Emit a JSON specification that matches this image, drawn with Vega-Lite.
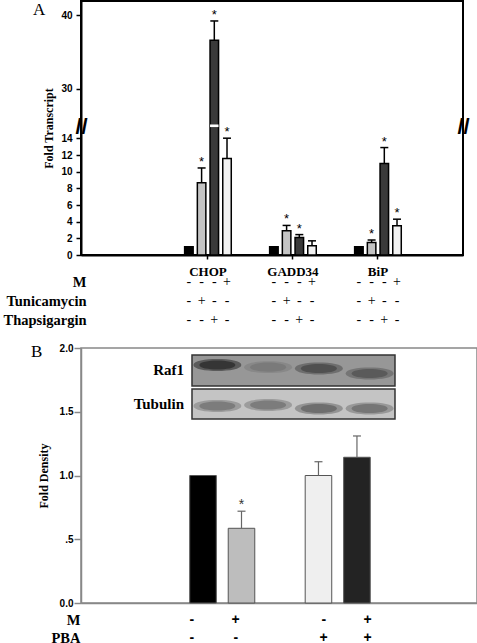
{
 "$schema": "https://vega.github.io/schema/vega-lite/v6.json",
 "background": "white",
 "padding": {"left": 3, "top": 0, "right": 0, "bottom": 0},
 "bounds": "flush",
 "spacing": 17,
 "config": {"font": "Liberation Serif", "axis": {"grid": false}},
 "datasets": {
  "a": [
   {"gene":"CHOP","treatment":"Control","value":1.0,"upper":null,"sig":"","M":"-","Tunicamycin":"-","Thapsigargin":"-"},
   {"gene":"CHOP","treatment":"Tunicamycin","value":8.66,"upper":10.45,"sig":"*","M":"-","Tunicamycin":"+","Thapsigargin":"-"},
   {"gene":"CHOP","treatment":"Thapsigargin","value":36.6,"upper":39.2,"sig":"*","M":"-","Tunicamycin":"-","Thapsigargin":"+"},
   {"gene":"CHOP","treatment":"M","value":11.6,"upper":14.2,"sig":"*","M":"+","Tunicamycin":"-","Thapsigargin":"-"},
   {"gene":"GADD34","treatment":"Control","value":1.0,"upper":null,"sig":"","M":"-","Tunicamycin":"-","Thapsigargin":"-"},
   {"gene":"GADD34","treatment":"Tunicamycin","value":2.9,"upper":3.55,"sig":"*","M":"-","Tunicamycin":"+","Thapsigargin":"-"},
   {"gene":"GADD34","treatment":"Thapsigargin","value":2.1,"upper":2.45,"sig":"*","M":"-","Tunicamycin":"-","Thapsigargin":"+"},
   {"gene":"GADD34","treatment":"M","value":1.1,"upper":1.7,"sig":"","M":"+","Tunicamycin":"-","Thapsigargin":"-"},
   {"gene":"BiP","treatment":"Control","value":1.0,"upper":null,"sig":"","M":"-","Tunicamycin":"-","Thapsigargin":"-"},
   {"gene":"BiP","treatment":"Tunicamycin","value":1.5,"upper":1.8,"sig":"*","M":"-","Tunicamycin":"+","Thapsigargin":"-"},
   {"gene":"BiP","treatment":"Thapsigargin","value":11.0,"upper":12.9,"sig":"*","M":"-","Tunicamycin":"-","Thapsigargin":"+"},
   {"gene":"BiP","treatment":"M","value":3.5,"upper":4.3,"sig":"*","M":"+","Tunicamycin":"-","Thapsigargin":"-"}
  ],
  "b": [
   {"cond":"Control","PBA":"-","M":"-","value":1.0,"upper":null,"sig":""},
   {"cond":"M","PBA":"-","M":"+","value":0.586,"upper":0.72,"sig":"*"},
   {"cond":"PBA","PBA":"+","M":"-","value":1.0,"upper":1.108,"sig":""},
   {"cond":"M+PBA","PBA":"+","M":"+","value":1.143,"upper":1.31,"sig":""}
  ],
  "blotbox": [
   {"protein":"Raf1","top":1.945,"bottom":1.702},
   {"protein":"Tubulin","top":1.678,"bottom":1.443}
  ],
  "bands": [
   {"protein":"Raf1","lane":1,"y":1.866,"intensity":0.9},
   {"protein":"Raf1","lane":2,"y":1.85,"intensity":0.22},
   {"protein":"Raf1","lane":3,"y":1.84,"intensity":0.6},
   {"protein":"Raf1","lane":4,"y":1.80,"intensity":0.5},
   {"protein":"Tubulin","lane":1,"y":1.545,"intensity":0.45},
   {"protein":"Tubulin","lane":2,"y":1.553,"intensity":0.45},
   {"protein":"Tubulin","lane":3,"y":1.525,"intensity":0.55},
   {"protein":"Tubulin","lane":4,"y":1.525,"intensity":0.5}
  ]
 },
 "vconcat": [
  {
   "width": 382,
   "height": 254,
   "title": {"text": "A", "anchor": "start", "frame": "group", "font": "Liberation Serif", "fontSize": 17, "fontWeight": "normal", "baseline": "top", "offset": 0, "dx": -48, "dy": 18, "color": "black"},
   "view": {"stroke": "black", "strokeWidth": 2},
   "data": {"name": "a"},
   "resolve": {"axis": {"y": "independent"}},
   "encoding": {
    "x": {"field": "gene", "type": "nominal", "sort": ["CHOP","GADD34","BiP"],
          "scale": {"domain": ["CHOP","GADD34","BiP"], "paddingInner": 0, "paddingOuter": 0.747, "align": 0.665},
          "axis": {"title": null, "labelAngle": 0, "labelFont": "Liberation Serif", "labelFontSize": 13, "labelFontWeight": "bold", "labelColor": "black", "labelPadding": 6, "tickSize": 4, "tickColor": "black", "tickWidth": 1.5, "domainColor": "black", "domainWidth": 2}},
    "xOffset": {"field": "treatment", "type": "nominal", "scale": {"domain": ["_p1","Control","Tunicamycin","Thapsigargin","M","_p2"], "paddingInner": 0.33, "paddingOuter": 0.51}}
   },
   "layer": [
    {
     "mark": {"type": "bar", "stroke": "black", "strokeWidth": 1.5},
     "encoding": {
      "y": {"field": "value", "type": "quantitative",
            "scale": {"domain": [0, 14, 24.9, 41.9], "range": [254, 137.4, 125.7, 0], "nice": false, "zero": false},
            "axis": {"values": [0,2,4,6,8,10,12,14,24.9,30,40], "labelOverlap": false,
                     "labelExpr": "datum.value == 24.9 ? '//' : datum.label",
                     "labelFont": "Liberation Sans", "labelFontWeight": "bold", "labelColor": "black",
                     "labelFontSize": {"condition": {"test": "datum.value == 24.9", "value": 22}, "value": 10},
                     "labelAlign": {"condition": {"test": "datum.value == 24.9", "value": "center"}, "value": "right"},
                     "labelPadding": {"condition": {"test": "datum.value == 24.9", "value": -5}, "value": 4},
                     "tickOpacity": {"condition": {"test": "datum.value == 24.9", "value": 0}, "value": 1},
                     "labelBaseline": "middle",
                     "tickSize": 5, "tickColor": "black", "tickWidth": 1.5, "domainColor": "black", "domainWidth": 2,
                     "title": "Fold Transcript", "titleFont": "Liberation Serif", "titleFontSize": 12, "titleFontWeight": "bold", "titleColor": "black", "titlePadding": 5}},
      "color": {"field": "treatment", "type": "nominal", "scale": {"domain": ["Control","Tunicamycin","Thapsigargin","M"], "range": ["#000000","#c4c4c4","#3a3a3a","#f2f2f2"]}, "legend": null}
     }
    },
    {
     "transform": [{"filter": "datum.value > 25"}],
     "mark": {"type": "bar", "color": "white", "strokeWidth": 0},
     "encoding": {
      "y": {"datum": 24.55, "type": "quantitative",
            "axis": {"orient": "right", "values": [24.9], "labelExpr": "'//'", "domain": false, "ticks": false, "labelPadding": 0, "labelAlign": "center", "labelBaseline": "middle", "labelFont": "Liberation Sans", "labelFontSize": 22, "labelFontWeight": "bold", "labelColor": "black", "title": null}},
      "y2": {"datum": 25.2}
     }
    },
    {
     "transform": [{"filter": "datum.upper != null"}],
     "mark": {"type": "rule", "color": "black", "strokeWidth": 1.5},
     "encoding": {
      "y": {"field": "value", "type": "quantitative", "axis": null},
      "y2": {"field": "upper"}
     }
    },
    {
     "transform": [{"filter": "datum.upper != null"}],
     "mark": {"type": "tick", "color": "black", "thickness": 1.5, "size": 8, "opacity": 1},
     "encoding": {
      "y": {"field": "upper", "type": "quantitative", "axis": null}
     }
    },
    {
     "transform": [{"filter": "datum.sig == '*'"}],
     "mark": {"type": "text", "font": "Liberation Sans", "fontSize": 13, "baseline": "middle", "dy": -6, "color": "black"},
     "encoding": {
      "y": {"field": "upper", "type": "quantitative", "axis": null},
      "text": {"field": "sig"}
     }
    }
   ]
  },
  {
   "width": 382,
   "height": 59,
   "view": {"stroke": null},
   "data": {"name": "a"},
   "transform": [{"fold": ["M","Tunicamycin","Thapsigargin"], "as": ["row","sign"]}],
   "mark": {"type": "text", "font": "Liberation Serif", "fontSize": 14, "color": "black", "baseline": "middle"},
   "encoding": {
    "x": {"field": "gene", "type": "nominal", "scale": {"domain": ["CHOP","GADD34","BiP"], "paddingInner": 0, "paddingOuter": 0.747, "align": 0.665}, "axis": null},
    "xOffset": {"field": "treatment", "type": "nominal", "scale": {"domain": ["_p1","Control","Tunicamycin","Thapsigargin","M","_p2"], "paddingInner": 0.33, "paddingOuter": 0.51}},
    "y": {"field": "row", "type": "nominal", "scale": {"type": "point", "domain": ["M","Tunicamycin","Thapsigargin"], "range": [10, 48], "padding": 0},
          "axis": {"title": null, "domain": false, "ticks": false, "labelFont": "Liberation Serif", "labelFontSize": 14.5, "labelFontWeight": "bold", "labelColor": "black", "labelPadding": -5}},
    "text": {"field": "sign"}
   }
  },
  {
   "width": 396,
   "height": 255,
   "title": {"text": "B", "anchor": "start", "frame": "group", "font": "Liberation Serif", "fontSize": 17, "fontWeight": "normal", "baseline": "top", "offset": 0, "dx": -50, "dy": 18, "color": "black"},
   "view": {"stroke": "#888888", "strokeWidth": 1.5},
   "resolve": {"scale": {"x": "independent", "color": "independent"}, "axis": {"x": "independent"}},
   "layer": [
    {
     "data": {"name": "b"},
     "encoding": {
      "x": {"field": "cond", "type": "nominal", "scale": {"domain": ["_l1","_l2","Control","M","_gap","PBA","M+PBA","_r1","_r2"], "paddingInner": 0.31, "paddingOuter": 0.8, "align": 0.516},
            "axis": {"labels": false, "ticks": false, "title": null, "domainColor": "#888888", "domainWidth": 1.5}}
     },
     "layer": [
      {
       "mark": {"type": "bar", "stroke": "#555555", "strokeWidth": 1},
       "encoding": {
        "y": {"field": "value", "type": "quantitative", "scale": {"domain": [0, 2], "nice": false},
              "axis": {"values": [0, 0.5, 1, 1.5, 2], "labelExpr": "datum.value == 0.5 ? '.5' : format(datum.value, '.1f')",
                       "labelFont": "Liberation Sans", "labelFontWeight": "bold", "labelFontSize": 10, "labelColor": "black",
                       "tickSize": 7, "labelPadding": 1, "tickColor": "#888888", "tickWidth": 1.5, "domainColor": "#888888", "domainWidth": 1.5,
                       "titleFont": "Liberation Serif", "titleFontSize": 12, "titleFontWeight": "bold", "titleColor": "black", "titlePadding": 9},
              "title": "Fold Density"},
        "color": {"field": "cond", "type": "nominal", "scale": {"domain": ["Control","M","PBA","M+PBA"], "range": ["#000000","#bdbdbd","#efefef","#232323"]}, "legend": null}
       }
      },
      {
       "transform": [{"filter": "datum.upper != null"}],
       "mark": {"type": "rule", "color": "#666666", "strokeWidth": 1.2},
       "encoding": {
        "y": {"field": "value", "type": "quantitative", "title": "Fold Density"},
        "y2": {"field": "upper"}
       }
      },
      {
       "transform": [{"filter": "datum.upper != null"}],
       "mark": {"type": "tick", "color": "#666666", "thickness": 1.2, "size": 8, "opacity": 1},
       "encoding": {
        "y": {"field": "upper", "type": "quantitative", "title": "Fold Density"}
       }
      },
      {
       "transform": [{"filter": "datum.sig == '*'"}],
       "mark": {"type": "text", "font": "Liberation Sans", "fontSize": 14, "baseline": "middle", "dy": -6, "color": "#333333"},
       "encoding": {
        "y": {"field": "upper", "type": "quantitative", "title": "Fold Density"},
        "text": {"field": "sig"}
       }
      }
     ]
    },
    {
     "layer": [
      {
       "data": {"name": "blotbox"},
       "mark": {"type": "rect", "stroke": "#333333", "strokeWidth": 1.5},
       "encoding": {
        "x": {"datum": 0.5, "type": "quantitative", "scale": {"domain": [-1.687, 6.116], "nice": false, "zero": false}, "axis": null},
        "x2": {"datum": 4.5},
        "y": {"field": "top", "type": "quantitative", "title": "Fold Density"},
        "y2": {"field": "bottom"},
        "color": {"field": "protein", "type": "nominal", "scale": {"domain": ["Raf1","Tubulin"], "range": ["#979797","#c4c4c4"]}, "legend": null}
       }
      },
      {
       "data": {"name": "bands"},
       "mark": {"type": "point", "filled": true, "fill": "black", "strokeWidth": 0, "shape": "M-1,0 C-1,-0.333 1,-0.333 1,0 C1,0.333 -1,0.333 -1,0 Z", "size": 2300},
       "encoding": {
        "x": {"field": "lane", "type": "quantitative", "axis": null},
        "y": {"field": "y", "type": "quantitative", "title": "Fold Density"},
        "opacity": {"field": "intensity", "type": "quantitative", "scale": {"domain": [0, 1], "range": [0, 0.45]}, "legend": null}
       }
      },
      {
       "data": {"name": "bands"},
       "mark": {"type": "point", "filled": true, "fill": "black", "strokeWidth": 0, "shape": "M-1,0 C-1,-0.333 1,-0.333 1,0 C1,0.333 -1,0.333 -1,0 Z", "size": 1300},
       "encoding": {
        "x": {"field": "lane", "type": "quantitative", "axis": null},
        "y": {"field": "y", "type": "quantitative", "title": "Fold Density"},
        "opacity": {"field": "intensity", "type": "quantitative", "scale": {"domain": [0, 1], "range": [0, 0.85]}, "legend": null}
       }
      },
      {
       "data": {"name": "blotbox"},
       "mark": {"type": "text", "font": "Liberation Serif", "fontSize": 15, "fontWeight": "bold", "align": "right", "baseline": "middle", "dx": -8, "dy": 15, "color": "black"},
       "encoding": {
        "x": {"datum": 0.5, "type": "quantitative", "axis": null},
        "y": {"field": "top", "type": "quantitative", "title": "Fold Density"},
        "text": {"field": "protein"}
       }
      }
     ]
    }
   ]
  },
  {
   "width": 396,
   "height": 18,
   "view": {"stroke": null},
   "data": {"name": "b"},
   "transform": [{"fold": ["M","PBA"], "as": ["row","sign"]}],
   "mark": {"type": "text", "font": "Liberation Sans", "fontSize": 14, "fontWeight": "bold", "color": "black", "baseline": "middle"},
   "encoding": {
    "x": {"field": "cond", "type": "nominal", "scale": {"domain": ["_l1","_l2","Control","M","_gap","PBA","M+PBA","_r1","_r2"], "paddingInner": 0.31, "paddingOuter": 0.8, "align": 0.516}, "axis": null},
    "y": {"field": "row", "type": "nominal", "scale": {"type": "point", "domain": ["M","PBA"], "padding": 0},
          "axis": {"title": null, "domain": false, "ticks": false, "labelFont": "Liberation Serif", "labelFontSize": 14.5, "labelFontWeight": "bold", "labelColor": "black", "labelPadding": 1}},
    "text": {"field": "sign"}
   }
  }
 ]
}
